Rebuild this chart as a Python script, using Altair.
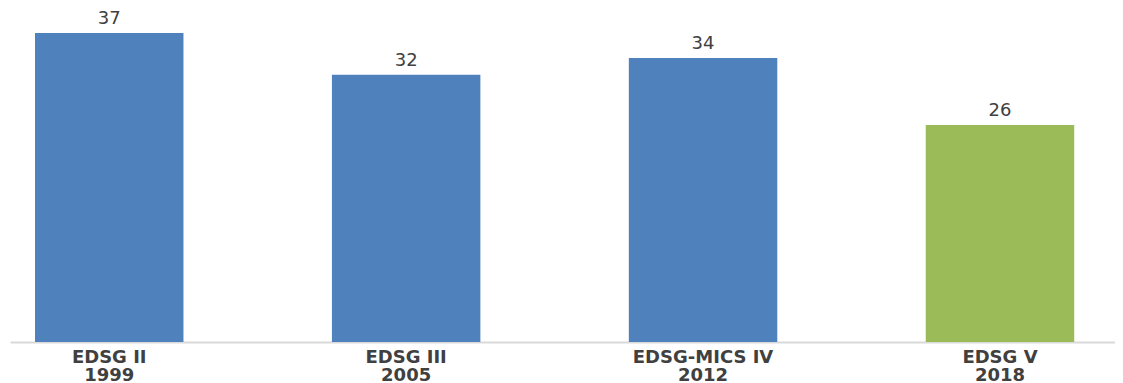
import altair as alt
import pandas as pd

surveys = ["EDSG II", "EDSG III", "EDSG-MICS IV", "EDSG V"]
years = ["1999", "2005", "2012", "2018"]
values = [37, 32, 34, 26]
bar_colors = ["#4F81BD", "#4F81BD", "#4F81BD", "#9BBB59"]

labels = [f"{s}|{y}" for s, y in zip(surveys, years)]
df = pd.DataFrame({"label": labels, "value": values})

x = alt.X(
    "label:N",
    sort=labels,
    title=None,
    scale=alt.Scale(paddingInner=0.5, paddingOuter=0.1108, align=0.38),
    axis=alt.Axis(
        labelAngle=0,
        labelExpr="split(datum.label, '|')",
        labelFont="DejaVu Sans",
        labelFontWeight="bold",
        labelFontSize=18,
        labelLineHeight=18,
        labelColor="#404040",
        labelPadding=6,
        ticks=False,
        grid=False,
        domainColor="#d9d9d9",
        domainWidth=2,
    ),
)
y = alt.Y("value:Q", scale=alt.Scale(domain=[0, 40]), axis=None)

bars = alt.Chart(df).mark_bar().encode(
    x=x,
    y=y,
    color=alt.Color("label:N", scale=alt.Scale(domain=labels, range=bar_colors), legend=None),
)
text = alt.Chart(df).mark_text(
    dy=-5, baseline="bottom", font="DejaVu Sans", fontSize=18, color="#404040"
).encode(x=x, y=y, text="value:Q")

chart = (
    alt.layer(bars, text)
    .properties(
        width=1105,
        height=334,
        autosize=alt.AutoSizeParams(type="none"),
        padding={"left": 2, "top": 0, "right": 0, "bottom": 41},
    )
    .configure(background="white", view=alt.ViewConfig(stroke=None))
)

chart.save("out.html", embed_options={"renderer": "svg", "actions": False})
